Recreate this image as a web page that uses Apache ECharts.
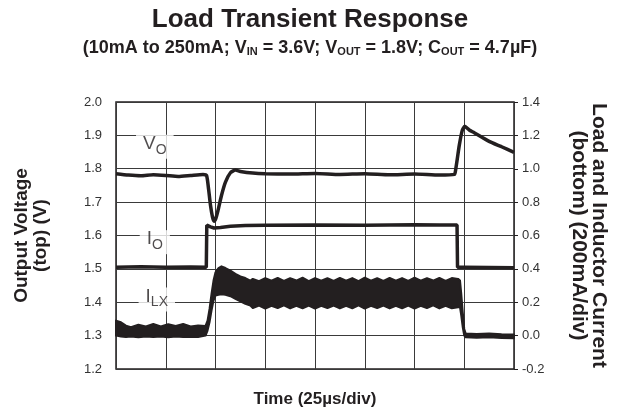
<!DOCTYPE html>
<html>
<head>
<meta charset="utf-8">
<title>Load Transient Response</title>
<script src="https://cdn.jsdelivr.net/npm/echarts@6/dist/echarts.min.js"></script>
<style>
  html, body { margin: 0; padding: 0; background: #fff; }
  #main { width: 620px; height: 416px; }
</style>
</head>
<body>
<div id="main"></div>
<script type="text/javascript">
// time axis is in divisions (25us/div), 8 divisions wide
var xTicks = [0, 1, 2, 3, 4, 5, 6, 7, 8];
var leftTicks = ['1.2', '1.3', '1.4', '1.5', '1.6', '1.7', '1.8', '1.9', '2.0'];
var rightTicks = ['-0.2', '0.0', '0.2', '0.4', '0.6', '0.8', '1.0', '1.2', '1.4'];

// output voltage V_O (left axis, V)
var voTime = [0, 0.25, 0.5, 0.75, 1, 1.25, 1.5, 1.75, 1.82, 1.86, 1.9, 1.94, 1.97, 2.0, 2.05, 2.12, 2.2, 2.3, 2.4, 2.5, 2.75, 3, 3.5, 4, 4.5, 5, 5.5, 6, 6.5, 6.8, 6.83, 6.9, 6.96, 7.01, 7.1, 7.2, 7.5, 7.75, 8];
var voValue = [1.785, 1.781, 1.779, 1.782, 1.78, 1.777, 1.78, 1.783, 1.78, 1.74, 1.69, 1.655, 1.643, 1.648, 1.675, 1.72, 1.76, 1.788, 1.796, 1.792, 1.787, 1.785, 1.784, 1.786, 1.783, 1.785, 1.782, 1.784, 1.781, 1.783, 1.8, 1.87, 1.915, 1.927, 1.916, 1.908, 1.882, 1.866, 1.849];

// load current I_O (right axis)
var ioTime = [0, 0.5, 1, 1.5, 1.815, 1.825, 1.9, 1.97, 2.1, 2.3, 2.6, 3, 4, 5, 6, 6.5, 6.855, 6.865, 7, 7.5, 8];
var ioValue = [0.41, 0.412, 0.41, 0.411, 0.41, 0.662, 0.652, 0.645, 0.648, 0.655, 0.66, 0.662, 0.663, 0.662, 0.664, 0.663, 0.663, 0.41, 0.41, 0.408, 0.406];

// inductor current I_LX ripple band (right axis), upper and lower envelope
var lxTime = [0, 0.1, 0.2, 0.3, 0.45, 0.6, 0.75, 0.9, 1.05, 1.2, 1.35, 1.5, 1.65, 1.8, 1.84, 1.88, 1.92, 1.96, 2.0, 2.06, 2.12, 2.2, 2.3, 2.4, 2.5, 2.6, 2.7,
  2.75, 2.875, 3.0, 3.125, 3.25, 3.375, 3.5, 3.625, 3.75, 3.875, 4.0, 4.125, 4.25, 4.375, 4.5, 4.625, 4.75, 4.875, 5.0, 5.125, 5.25, 5.375, 5.5, 5.625, 5.75, 5.875, 6.0, 6.125, 6.25, 6.375, 6.5, 6.625, 6.75, 6.875,
  6.915, 6.94, 6.97, 7.0, 7.03, 7.25, 7.5, 7.75, 8];
var lxUpper = [0.09, 0.08, 0.06, 0.05, 0.065, 0.055, 0.07, 0.055, 0.068, 0.058, 0.07, 0.055, 0.06, 0.058, 0.09, 0.16, 0.25, 0.33, 0.38, 0.405, 0.415, 0.405, 0.39, 0.37, 0.355, 0.345, 0.33,
  0.34, 0.326, 0.345, 0.329, 0.346, 0.328, 0.344, 0.33, 0.347, 0.327, 0.345, 0.329, 0.344, 0.328, 0.346, 0.33, 0.345, 0.327, 0.347, 0.329, 0.344, 0.328, 0.346, 0.33, 0.345, 0.328, 0.347, 0.329, 0.344, 0.33, 0.346, 0.328, 0.345, 0.34,
  0.33, 0.25, 0.14, 0.04, 0.013, 0.01, 0.012, 0.008, 0.006];
var lxLower = [0.0, -0.005, -0.008, -0.005, -0.01, -0.005, -0.008, -0.005, -0.01, -0.005, -0.008, -0.006, -0.008, 0.0, 0.03, 0.08, 0.15, 0.21, 0.24, 0.245, 0.248, 0.245, 0.236, 0.22, 0.205, 0.19, 0.18,
  0.165, 0.18, 0.162, 0.179, 0.165, 0.181, 0.163, 0.178, 0.164, 0.18, 0.162, 0.179, 0.165, 0.18, 0.163, 0.178, 0.164, 0.181, 0.162, 0.179, 0.165, 0.18, 0.163, 0.178, 0.164, 0.18, 0.162, 0.179, 0.165, 0.181, 0.163, 0.178, 0.164, 0.17,
  0.17, 0.12, 0.05, 0.0, -0.01, -0.012, -0.01, -0.014, -0.016];

// trace labels, placed in data units on the left axis
var traceLabels = [
  { name: '{m|V}{s|O}', x: 0.78, y: 1.866 },
  { name: '{m|I}{s|O}', x: 0.78, y: 1.58 },
  { name: '{m|I}{s|LX}', x: 0.82, y: 1.408 }
];

var ink = '#231f20';
var chart = echarts.init(document.getElementById('main'));

var option = {
  animation: false,
  textStyle: { fontFamily: 'Liberation Sans, Arial, sans-serif' },
  title: [
    {
      text: 'Load Transient Response',
      left: 'center', top: 2,
      textStyle: { fontSize: 26, fontWeight: 'bold', color: ink }
    },
    {
      text: '(10mA to 250mA; V{s|IN} = 3.6V; V{s|OUT} = 1.8V; C{s|OUT} = 4.7µF)',
      left: 'center', top: 34,
      textStyle: {
        fontSize: 18, fontWeight: 'bold', color: ink, padding: [0, 0, 5, 0],
        rich: { s: { fontSize: 11, fontWeight: 'bold', color: ink, verticalAlign: 'bottom', lineHeight: 11 } }
      }
    }
  ],
  grid: { left: 116, right: 106, top: 102, bottom: 47, show: true, borderColor: ink, borderWidth: 1.5, backgroundColor: 'transparent' },
  xAxis: {
    type: 'value', min: xTicks[0], max: xTicks[xTicks.length - 1], interval: 1,
    name: 'Time (25µs/div)', nameLocation: 'middle', nameGap: 22,
    nameTextStyle: { fontSize: 17, fontWeight: 'bold', color: ink },
    axisLine: { show: false }, axisTick: { show: false }, axisLabel: { show: false },
    splitLine: { show: true, lineStyle: { color: '#3a3a3a', width: 1 } }
  },
  yAxis: [
    {
      type: 'value', min: 1.2, max: 2.0, interval: 0.1, position: 'left',
      name: 'Output Voltage\n(top) (V)', nameLocation: 'middle', nameGap: 66, nameRotate: 90,
      nameTextStyle: { fontSize: 19, fontWeight: 'bold', color: ink, lineHeight: 19 },
      axisLine: { show: false }, axisTick: { show: false },
      axisLabel: { fontSize: 13, color: '#333', margin: 14, formatter: function (v) { return leftTicks[Math.round((v - 1.2) / 0.1)]; } },
      splitLine: { show: true, lineStyle: { color: '#3a3a3a', width: 1 } }
    },
    {
      type: 'value', min: -0.2, max: 1.4, interval: 0.2, position: 'right',
      name: 'Load and Inductor Current\n(bottom) (200mA/div)', nameLocation: 'middle', nameGap: 55, nameRotate: -90,
      nameTextStyle: { fontSize: 21, fontWeight: 'bold', color: ink, lineHeight: 20 },
      axisLine: { show: false },
      axisTick: { show: true, length: 4, lineStyle: { color: ink } },
      axisLabel: { fontSize: 13, color: '#333', margin: 8, formatter: function (v) { return rightTicks[Math.round((v + 0.2) / 0.2)]; } },
      splitLine: { show: false }
    }
  ],
  series: [
    {
      name: 'ILX', type: 'custom', yAxisIndex: 1, data: [[0, 0]], z: 3,
      renderItem: function (params, api) {
        var pts = [];
        for (var i = 0; i < lxTime.length; i++) pts.push(api.coord([lxTime[i], lxUpper[i]]));
        for (var j = lxTime.length - 1; j >= 0; j--) pts.push(api.coord([lxTime[j], lxLower[j]]));
        return { type: 'polygon', shape: { points: pts }, style: { fill: ink, stroke: ink, lineWidth: 2, lineJoin: 'round' } };
      }
    },
    {
      name: 'IO', type: 'line', yAxisIndex: 1, showSymbol: false, z: 4,
      data: ioTime.map(function (t, i) { return [t, ioValue[i]]; }),
      lineStyle: { color: ink, width: 3.5 }
    },
    {
      name: 'VO', type: 'line', yAxisIndex: 0, showSymbol: false, z: 4, smooth: 0.2,
      data: voTime.map(function (t, i) { return [t, voValue[i]]; }),
      lineStyle: { color: ink, width: 3.5 }
    },
    {
      name: 'labels', type: 'scatter', yAxisIndex: 0, symbolSize: 0, z: 5,
      data: traceLabels.map(function (d) { return { value: [d.x, d.y], name: d.name }; }),
      label: {
        show: true, position: 'inside', formatter: '{b}',
        backgroundColor: '#fff', padding: [2, 7, 2, 7],
        rich: {
          m: { fontSize: 19, color: ink, padding: [0, 0, 6, 0], lineHeight: 20 },
          s: { fontSize: 14, color: ink, verticalAlign: 'bottom', lineHeight: 14 }
        }
      }
    }
  ]
};
chart.setOption(option);
</script>
</body>
</html>
